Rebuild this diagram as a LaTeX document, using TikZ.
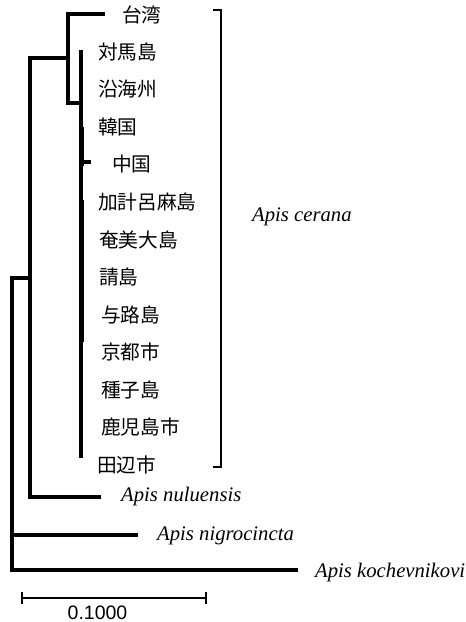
\documentclass[tikz,border=0pt]{standalone}
\usepackage{fontspec}
\setmainfont{Liberation Serif}
\newfontfamily\jpfont{Noto Sans CJK JP}
\newfontfamily\arialfont{Liberation Sans}
\begin{document}
\begin{tikzpicture}[x=1pt,y=-1pt,
  branch/.style={line width=3.6pt, line join=miter},
  thinbr/.style={line width=1.6pt},
  jlabel/.style={anchor=west, inner sep=0pt, font=\jpfont\fontsize{19.7}{19.7}\selectfont},
  slabel/.style={anchor=west, inner sep=0pt, font=\itshape\fontsize{20.7}{20.7}\selectfont},
  bracket/.style={line width=1.8pt},
  scalebar/.style={line width=2.4pt}]
\useasboundingbox (0,0) rectangle (466,622);
% labels
\node[jlabel] (l0) at (122,15) {台湾};
\node[jlabel] (l1) at (98,52) {対馬島};
\node[jlabel] (l2) at (98,89) {沿海州};
\node[jlabel] (l3) at (98,127) {韓国};
\node[jlabel] (l4) at (112,164.5) {中国};
\node[jlabel] (l5) at (98,202) {加計呂麻島};
\node[jlabel] (l6) at (99,239.5) {奄美大島};
\node[jlabel] (l7) at (99,277) {請島};
\node[jlabel] (l8) at (101,314.5) {与路島};
\node[jlabel] (l9) at (101,352) {京都市};
\node[jlabel] (l10) at (101,389.5) {種子島};
\node[jlabel] (l11) at (101,427) {鹿児島市};
\node[jlabel] (l12) at (97,464.5) {田辺市};
\node[slabel] (nul) at (121,497) {Apis nuluensis};
\node[slabel] (nig) at (157,536) {Apis nigrocincta};
\node[slabel] (koc) at (315,573) {Apis kochevnikovi};
\node[slabel] (cer) at (252,217) {Apis cerana};
% tree coordinates
\coordinate (twtip) at (105,14);
\coordinate (a1) at (68,14);
\coordinate (a) at (68,58);
\coordinate (a2) at (68,103);
\coordinate (b) at (81,103);
\coordinate (b1) at (81,50);
\coordinate (b2) at (81,458);
\coordinate (cn) at (81,162);
\coordinate (cntip) at (91,162);
\coordinate (c) at (30,58);
\coordinate (cd) at (30,278);
\coordinate (c2) at (30,497);
\coordinate (nultip) at (101,497);
\coordinate (d) at (12,278);
\coordinate (d3) at (12,535);
\coordinate (d2) at (12,570);
\coordinate (nigtip) at (138,535);
\coordinate (koctip) at (298,570);
% branches
\draw[branch] (twtip) -- (a1) -- (a2) -- (b);
\draw[branch] (b1) -- (b2);
\draw[branch] (cn) -- (cntip);
\draw[thinbr] (83,127) -- (83,166);
\draw[thinbr] (83,200) -- (83,342);
\draw[branch] (nultip) -- (c2) -- (c) -- (a);
\draw[branch] (koctip) -- (d2) -- (d) -- (cd);
\draw[branch] (d3) -- (nigtip);
% bracket
\coordinate (bt) at (213,10);
\coordinate (btr) at (221,10);
\coordinate (bbr) at (221,467);
\coordinate (bb) at (213,467);
\draw[bracket] (bt) -- (btr) -- (bbr) -- (bb);
% scale bar
\coordinate (s1) at (22,598);
\coordinate (s2) at (206,598);
\draw[scalebar] (s1) -- (s2);
\draw[scalebar] ([yshift=-6pt]s1) -- ([yshift=6pt]s1);
\draw[scalebar] ([yshift=-6pt]s2) -- ([yshift=6pt]s2);
\node[inner sep=0pt, font=\arialfont\fontsize{19.5}{19.5}\selectfont] (sl) at (97.5,612.5) {0.1000};
\end{tikzpicture}
\end{document}
